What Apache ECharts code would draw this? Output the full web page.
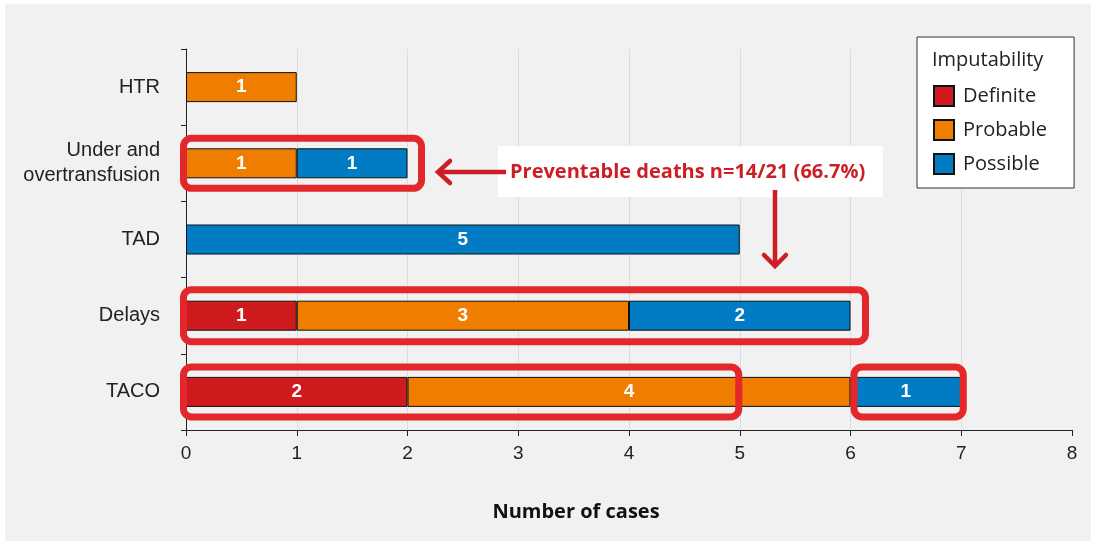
<!DOCTYPE html>
<html>
<head>
<meta charset="utf-8">
<script src="https://cdn.jsdelivr.net/npm/echarts@6/dist/echarts.min.js"></script>
<style>
    html, body { margin: 0; padding: 0; background: #ffffff; }
    .panel { position: absolute; left: 5px; top: 4px; width: 1086px; height: 537px; background: #f1f1f1; }
    #chart { position: absolute; left: 0; top: 0; width: 1097px; height: 544px; }
</style>
</head>
<body>
<div class="panel"></div>
<div id="chart"></div>
<script>
    // categories top to bottom
    var categories = ['HTR', 'Under and\novertransfusion', 'TAD', 'Delays', 'TACO'];
    var seriesNames = ['Definite', 'Probable', 'Possible'];
    var definite = [0, 0, 0, 1, 2];
    var probable = [1, 1, 0, 3, 4];
    var possible = [0, 1, 5, 2, 1];
    var xTicks = [0, 1, 2, 3, 4, 5, 6, 7, 8];
    var noteText = 'Preventable deaths n=14/21 (66.7%)';

    var colorList = ['#cf1a1e', '#ef7d00', '#007bc4'];
    var fontName = '"Liberation Sans", Arial, sans-serif';
    var wideFont = '"Open Sans", "Liberation Sans", sans-serif';

    var myChart = echarts.init(document.getElementById('chart'), null, { renderer: 'canvas' });

    var seriesData = [definite, probable, possible].map(function (v, i) {
        return {
            name: seriesNames[i],
            type: 'bar',
            stack: 'total',
            barWidth: 30,
            itemStyle: {
                color: colorList[i],
                borderColor: '#111',
                borderWidth: 1
            },
            label: {
                show: true,
                position: 'inside',
                color: '#fff',
                fontFamily: fontName,
                fontSize: 19,
                fontWeight: 'bold'
            },
            data: v.map(function (d) { return d === 0 ? null : d; })
        };
    });

    var option = {
        backgroundColor: 'transparent',
        animation: false,
        title: {
            text: 'Imputability',
            left: 927,
            top: 45,
            textStyle: { fontFamily: wideFont, fontSize: 20, fontWeight: 'normal', color: '#222' }
        },
        legend: {
            orient: 'vertical',
            left: 917,
            top: 37,
            padding: [48, 27, 13, 16],
            backgroundColor: '#fff',
            borderColor: '#333',
            borderWidth: 1,
            borderRadius: 0,
            icon: 'rect',
            itemWidth: 20,
            itemHeight: 20,
            itemGap: 12,
            data: seriesNames,
            textStyle: { fontFamily: wideFont, fontSize: 20, color: '#222', padding: [0, 0, 0, 4] }
        },
        grid: {
            left: 186,
            right: 25,
            top: 49,
            bottom: 114,
            containLabel: false
        },
        xAxis: {
            type: 'value',
            min: xTicks[0],
            max: xTicks[xTicks.length - 1],
            interval: 1,
            name: 'Number of cases',
            nameLocation: 'middle',
            nameGap: 72,
            nameTextStyle: {
                fontFamily: wideFont, fontSize: 20, fontWeight: 'bold', color: '#111',
                padding: [0, 106, 0, 0]
            },
            axisLine: { show: true, lineStyle: { color: '#222', width: 1 } },
            axisTick: { show: true, length: 6, lineStyle: { color: '#222' } },
            axisLabel: { margin: 14, fontFamily: fontName, fontSize: 19, color: '#222' },
            splitLine: { show: true, showMaxLine: false, lineStyle: { color: '#dcdcdc', width: 1 } }
        },
        yAxis: {
            type: 'category',
            inverse: true,
            data: categories,
            axisLine: { show: true, lineStyle: { color: '#222', width: 1 } },
            axisTick: { show: true, length: 5, lineStyle: { color: '#222' } },
            axisLabel: { margin: 26, fontFamily: fontName, fontSize: 20, color: '#222', lineHeight: 25, align: 'right' },
            splitLine: { show: false }
        },
        series: seriesData
    };
    myChart.setOption(option);

    // red boxes round the preventable cases: [from, to, category index, pad left, pad right, half height]
    var boxes = [
        [0, 2, 1, -2.5, 14, 25],
        [0, 6, 3, -2.5, 15, 26],
        [0, 5, 4, -2.5, -1, 25],
        [6, 7, 4, 3.5, 2, 25]
    ];
    var graphics = boxes.map(function (b) {
        var p1 = myChart.convertToPixel({ gridIndex: 0 }, [b[0], b[2]]);
        var p2 = myChart.convertToPixel({ gridIndex: 0 }, [b[1], b[2]]);
        var x1 = p1[0] + b[3], x2 = p2[0] + b[4];
        return {
            type: 'rect',
            z: 100,
            shape: { x: x1, y: p1[1] - b[5], width: x2 - x1, height: b[5] * 2, r: 8 },
            style: { fill: 'none', stroke: '#e4272a', lineWidth: 7 }
        };
    });

    graphics.push(
        {
            type: 'rect', z: 90,
            shape: { x: 498, y: 146, width: 385, height: 51 },
            style: { fill: '#fff' }
        },
        {
            type: 'text', z: 101, x: 510, y: 172,
            style: { text: noteText, fill: '#cc1f25', font: 'bold 20px ' + wideFont, verticalAlign: 'middle' }
        },
        {
            type: 'polyline', z: 101,
            shape: { points: [[506, 172], [438, 172]] },
            style: { stroke: '#cc1f25', lineWidth: 4.5, fill: 'none' }
        },
        {
            type: 'polyline', z: 101,
            shape: { points: [[450, 161], [438, 172], [450, 183]] },
            style: { stroke: '#cc1f25', lineWidth: 4.5, fill: 'none', lineJoin: 'miter', lineCap: 'round' }
        },
        {
            type: 'polyline', z: 101,
            shape: { points: [[775, 190], [775, 266]] },
            style: { stroke: '#cc1f25', lineWidth: 4.5, fill: 'none' }
        },
        {
            type: 'polyline', z: 101,
            shape: { points: [[764, 255], [775, 266], [786, 255]] },
            style: { stroke: '#cc1f25', lineWidth: 4.5, fill: 'none', lineJoin: 'miter', lineCap: 'round' }
        }
    );

    myChart.setOption({ graphic: graphics });

    window.addEventListener('resize', function () {
        myChart.resize();
    });
</script>
</body>
</html>
